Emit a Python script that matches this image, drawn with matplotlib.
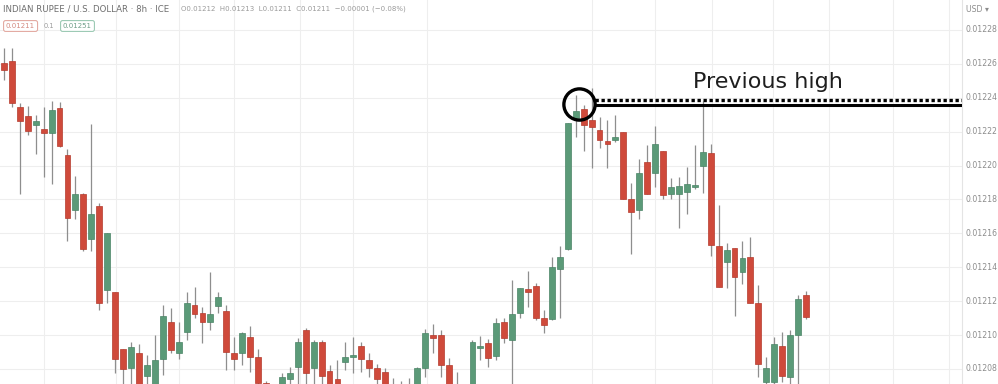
import matplotlib
matplotlib.use("Agg")
import matplotlib.pyplot as plt
import numpy as np

# INR/USD 8h candles
opens = [0.0122605, 0.0122617, 0.0122346, 0.0122293, 0.0122240, 0.0122216, 0.0122192, 0.0122340, 0.0122063, 0.0121738,
         0.0121832, 0.0121567, 0.0121762, 0.0121266, 0.0121254, 0.0120918, 0.0120806, 0.0120894, 0.0120759, 0.0120688,
         0.0120859, 0.0121077, 0.0120894, 0.0121018, 0.0121178, 0.0121130, 0.0121077, 0.0121172, 0.0121142, 0.0120894,
         0.0120894, 0.0120989, 0.0120871, 0.0120717, 0.0120664, 0.0120676, 0.0120741, 0.0120812, 0.0121030, 0.0120806,
         0.0120959, 0.0120788, 0.0120741, 0.0120841, 0.0120871, 0.0120936, 0.0120853, 0.0120806, 0.0120782, 0.0120688,
         0.0120629, 0.0120647, 0.0120688, 0.0120806, 0.0121001, 0.0121001, 0.0120824, 0.0120676, 0.0120588, 0.0120647,
         0.0120924, 0.0120953, 0.0120877, 0.0121077, 0.0120971, 0.0121130, 0.0121272, 0.0121290, 0.0121101, 0.0121095,
         0.0121390, 0.0121508, 0.0122281, 0.0122334, 0.0122269, 0.0122210, 0.0122145, 0.0122151, 0.0122198, 0.0121803,
         0.0121738, 0.0122021, 0.0121956, 0.0122086, 0.0121832, 0.0121832, 0.0121844, 0.0121874, 0.0121998, 0.0122074,
         0.0121526, 0.0121431, 0.0121514, 0.0121372, 0.0121461, 0.0121189, 0.0120723, 0.0120723, 0.0120936, 0.0120753,
         0.0121001, 0.0121237]
highs = [0.0122694, 0.0122694, 0.0122369, 0.0122352, 0.0122299, 0.0122346, 0.0122381, 0.0122375, 0.0122098, 0.0121939,
         0.0121838, 0.0122245, 0.0121779, 0.0121602, 0.0121254, 0.0120918, 0.0120959, 0.0120947, 0.0120883, 0.0121001,
         0.0121178, 0.0121160, 0.0121077, 0.0121254, 0.0121284, 0.0121166, 0.0121372, 0.0121254, 0.0121178, 0.0120989,
         0.0121018, 0.0121054, 0.0120918, 0.0120729, 0.0120688, 0.0120776, 0.0120812, 0.0120983, 0.0121042, 0.0120971,
         0.0120971, 0.0120824, 0.0120853, 0.0120959, 0.0120989, 0.0120959, 0.0120894, 0.0120829, 0.0120806, 0.0120747,
         0.0120729, 0.0120747, 0.0120812, 0.0121036, 0.0121065, 0.0121030, 0.0120865, 0.0120782, 0.0120664, 0.0120971,
         0.0120995, 0.0120977, 0.0121101, 0.0121101, 0.0121325, 0.0121278, 0.0121378, 0.0121307, 0.0121148, 0.0121461,
         0.0121526, 0.0122251, 0.0122417, 0.0122358, 0.0122458, 0.0122287, 0.0122269, 0.0122299, 0.0122198, 0.0121897,
         0.0122039, 0.0122122, 0.0122234, 0.0122086, 0.0121927, 0.0121933, 0.0121992, 0.0122122, 0.0122381, 0.0122127,
         0.0121768, 0.0121543, 0.0121514, 0.0121555, 0.0121579, 0.0121296, 0.0120871, 0.0120989, 0.0121018, 0.0121030,
         0.0121237, 0.0121260]
lows = [0.0122505, 0.0122346, 0.0121832, 0.0122181, 0.0122068, 0.0121933, 0.0121891, 0.0122110, 0.0121555, 0.0121685,
        0.0121496, 0.0121496, 0.0121148, 0.0121189, 0.0120776, 0.0120647, 0.0120647, 0.0120617, 0.0120676, 0.0120629,
        0.0120765, 0.0120894, 0.0120859, 0.0120971, 0.0121101, 0.0120953, 0.0121030, 0.0121130, 0.0120794, 0.0120794,
        0.0120824, 0.0120782, 0.0120647, 0.0120588, 0.0120558, 0.0120647, 0.0120664, 0.0120676, 0.0120688, 0.0120664,
        0.0120664, 0.0120647, 0.0120629, 0.0120794, 0.0120776, 0.0120782, 0.0120753, 0.0120706, 0.0120647, 0.0120617,
        0.0120588, 0.0120605, 0.0120664, 0.0120753, 0.0120894, 0.0120753, 0.0120647, 0.0120588, 0.0120558, 0.0120617,
        0.0120853, 0.0120812, 0.0120853, 0.0120953, 0.0120647, 0.0121101, 0.0121166, 0.0121089, 0.0121012, 0.0121089,
        0.0121101, 0.0121502, 0.0122169, 0.0122086, 0.0121986, 0.0122104, 0.0121986, 0.0122139, 0.0121803, 0.0121478,
        0.0121685, 0.0121832, 0.0121874, 0.0121803, 0.0121803, 0.0121632, 0.0121714, 0.0121862, 0.0121838, 0.0121467,
        0.0121284, 0.0121278, 0.0121113, 0.0121301, 0.0121189, 0.0120753, 0.0120647, 0.0120664, 0.0120723, 0.0120706,
        0.0120647, 0.0121095]
closes = [0.0122564, 0.0122369, 0.0122263, 0.0122204, 0.0122263, 0.0122192, 0.0122328, 0.0122116, 0.0121691, 0.0121832,
          0.0121508, 0.0121714, 0.0121189, 0.0121602, 0.0120859, 0.0120800, 0.0120930, 0.0120706, 0.0120824, 0.0120853,
          0.0121113, 0.0120912, 0.0120959, 0.0121189, 0.0121124, 0.0121077, 0.0121124, 0.0121225, 0.0120900, 0.0120859,
          0.0121012, 0.0120871, 0.0120717, 0.0120629, 0.0120605, 0.0120753, 0.0120776, 0.0120959, 0.0120776, 0.0120959,
          0.0120759, 0.0120688, 0.0120676, 0.0120871, 0.0120883, 0.0120859, 0.0120806, 0.0120741, 0.0120688, 0.0120647,
          0.0120676, 0.0120688, 0.0120806, 0.0121012, 0.0120983, 0.0120824, 0.0120676, 0.0120629, 0.0120629, 0.0120959,
          0.0120930, 0.0120865, 0.0121071, 0.0120983, 0.0121124, 0.0121278, 0.0121254, 0.0121101, 0.0121060, 0.0121402,
          0.0121461, 0.0122251, 0.0122322, 0.0122240, 0.0122228, 0.0122151, 0.0122127, 0.0122169, 0.0121803, 0.0121726,
          0.0121956, 0.0121832, 0.0122127, 0.0121826, 0.0121874, 0.0121880, 0.0121891, 0.0121880, 0.0122080, 0.0121532,
          0.0121284, 0.0121502, 0.0121343, 0.0121455, 0.0121189, 0.0120829, 0.0120806, 0.0120947, 0.0120759, 0.0121001,
          0.0121213, 0.0121107]

price_ticks = [0.01208, 0.01210, 0.01212, 0.01214, 0.01216, 0.01218, 0.01220, 0.01222, 0.01224, 0.01226, 0.01228]
# time grid lines (in bar units)
time_grid = [5.0, 14.1, 22.0, 29.0, 37.3, 43.9, 53.3, 74.1, 82.0, 89.2, 96.9, 103.9, 112.0, 119.0]

prev_high = 0.0122387
swing_bar = 72.4

UP = "#5b9a78"
DOWN = "#cf4a3b"
WICK = "#8e8e8e"

W, H = 998, 384
fig = plt.figure(figsize=(W / 100, H / 100), dpi=100)
ax = fig.add_axes([0, 0, 962 / W, 1])

x = np.arange(len(opens))
o = np.array(opens)
c = np.array(closes)
up = c >= o

ax.vlines(x, lows, highs, color=WICK, lw=0.9, zorder=2)
body_lo = np.minimum(o, c)
body_h = np.maximum(np.abs(c - o), 0.0000010)
ax.bar(x[up], body_h[up], bottom=body_lo[up], width=0.74, color=UP,
       edgecolor="#4a8466", linewidth=0.5, zorder=3)
ax.bar(x[~up], body_h[~up], bottom=body_lo[~up], width=0.74, color=DOWN,
       edgecolor="#b53a2d", linewidth=0.5, zorder=3)

ymin, ymax = 0.0120711, 0.0122977
ax.set_xlim(-0.5, 120.65)
ax.set_ylim(ymin, ymax)

ax.set_xticks(time_grid)
ax.set_xticklabels([])
ax.set_yticks(price_ticks)
ax.yaxis.tick_right()
ax.tick_params(axis="both", length=0)
ax.set_yticklabels([])
ax.grid(True, color="#eeeeee", lw=0.8, zorder=0)
for s in ["top", "left", "bottom"]:
    ax.spines[s].set_visible(False)
ax.spines["right"].set_color("#e4e4e4")

# price axis labels
for p in price_ticks:
    yf = (p - ymin) / (ymax - ymin)
    fig.text(966 / W, yf, f"{p:.5f}", fontsize=5.6, color="#8c8c8c",
             ha="left", va="center")
fig.text(966 / W, 1 - 9 / H, "USD ▾", fontsize=5.6, color="#8c8c8c", ha="left", va="center")

# previous high annotation
ax.plot([74.4, 120.65], [prev_high, prev_high], color="black", lw=2.4,
        linestyle=(0, (1, 0.8)), solid_capstyle="butt", zorder=5)
ax.plot([74.4, 120.65], [prev_high - 0.0000027, prev_high - 0.0000027],
        color="black", lw=2.2, zorder=5)
ax.plot([swing_bar], [0.0122362], marker="o", markersize=22.5, markerfacecolor="none",
        markeredgecolor="black", markeredgewidth=2.4, zorder=6)
ax.text(86.8, 0.0122493, "Previous high", fontsize=16, color="#1e1e1e",
        ha="left", va="center", zorder=6)

# header
fig.text(3 / W, 1 - 9 / H, "INDIAN RUPEE / U.S. DOLLAR · 8h · ICE", fontsize=6.2,
         color="#6e6e6e", ha="left", va="center")
fig.text(181 / W, 1 - 9 / H, "O0.01212  H0.01213  L0.01211  C0.01211  −0.00001 (−0.08%)",
         fontsize=5.0, color="#9a9a9a", ha="left", va="center")
fig.text(6 / W, 1 - 26 / H, "0.01211", fontsize=5, color="#d48a80", ha="left", va="center",
         bbox=dict(boxstyle="round,pad=0.35,rounding_size=0.3", fc="white", ec="#e3aaa2", lw=0.8))
fig.text(44 / W, 1 - 26 / H, "0.1", fontsize=4.8, color="#9a9a9a", ha="left", va="center")
fig.text(63 / W, 1 - 26 / H, "0.01251", fontsize=5, color="#6e9e88", ha="left", va="center",
         bbox=dict(boxstyle="round,pad=0.35,rounding_size=0.3", fc="white", ec="#9ccab4", lw=0.8))

fig.savefig("out.png", dpi=100)
